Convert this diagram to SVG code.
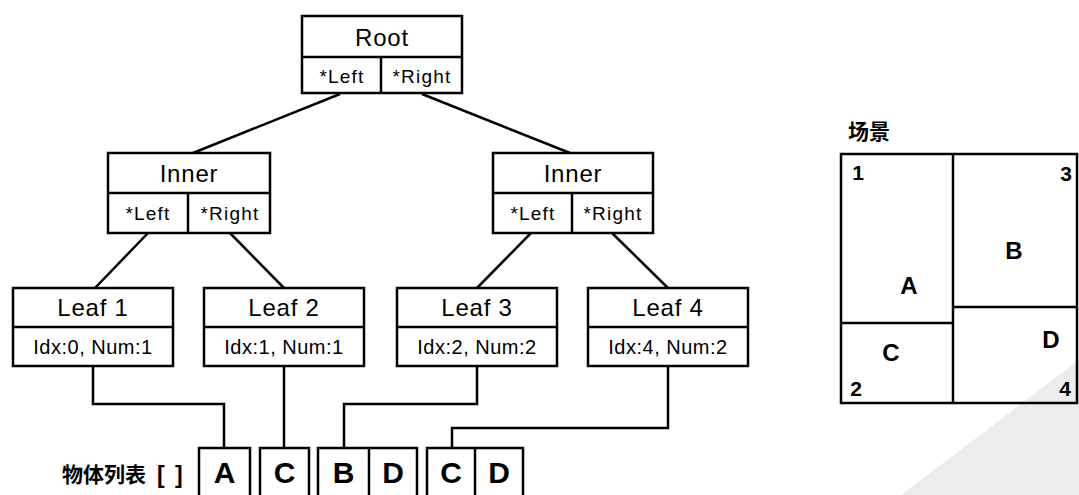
<svg xmlns="http://www.w3.org/2000/svg" width="1079" height="495" viewBox="0 0 1079 495">
<style>
.box{fill:#fff;stroke:#000;stroke-width:2.5}
.ln{fill:none;stroke:#000;stroke-width:2.5}
.t{font-family:"Liberation Sans",Arial,sans-serif;fill:#000;text-anchor:middle}
.big{font-size:24px;letter-spacing:0.8px}
.ptr{font-size:19px;letter-spacing:1.2px}
.idx{font-size:20px;letter-spacing:0.5px}
.obj{font-size:30px;font-weight:bold}
.sc{font-size:24px;font-weight:bold}
.num{font-size:21px;font-weight:bold}
.cjk{font-family:"Liberation Sans","Noto Sans CJK SC",sans-serif;font-weight:bold;font-size:21px;fill:#000}
.br{font-family:"Liberation Sans",Arial,sans-serif;font-weight:bold;font-size:23px;fill:#000}
</style>
<rect width="1079" height="495" fill="#fff"/>
<polygon points="901,495 1079,360 1079,495" fill="#ececec"/>

<g id="connectors">
<line class="ln" x1="340" y1="94" x2="193" y2="153"/>
<line class="ln" x1="422" y1="94" x2="570" y2="153"/>
<line class="ln" x1="148" y1="233" x2="95" y2="288"/>
<line class="ln" x1="230" y1="233" x2="284" y2="288"/>
<line class="ln" x1="531" y1="233" x2="477" y2="288"/>
<line class="ln" x1="612" y1="233" x2="668" y2="288"/>
<polyline class="ln" points="93,366 93,404 224,404 224,449"/>
<polyline class="ln" points="284,366 284,449"/>
<polyline class="ln" points="477,366 477,404 344,404 344,449"/>
<polyline class="ln" points="668,366 668,428 452,428 452,449"/>
</g>

<g id="root">
<rect class="box" x="302" y="16" width="160" height="77"/>
<line class="ln" x1="302" y1="57" x2="462" y2="57"/>
<line class="ln" x1="381" y1="57" x2="381" y2="93"/>
<text class="t big" x="382" y="46">Root</text>
<text class="t ptr" x="342" y="83">*Left</text>
<text class="t ptr" x="422" y="83">*Right</text>
</g>

<g id="inner-left">
<rect class="box" x="108" y="153" width="162" height="80"/>
<line class="ln" x1="108" y1="193" x2="270" y2="193"/>
<line class="ln" x1="188" y1="193" x2="188" y2="233"/>
<text class="t big" x="189" y="182">Inner</text>
<text class="t ptr" x="148" y="220">*Left</text>
<text class="t ptr" x="230" y="220">*Right</text>
</g>

<g id="inner-right">
<rect class="box" x="493" y="153" width="160" height="80"/>
<line class="ln" x1="493" y1="193" x2="653" y2="193"/>
<line class="ln" x1="572" y1="193" x2="572" y2="233"/>
<text class="t big" x="573" y="182">Inner</text>
<text class="t ptr" x="533" y="220">*Left</text>
<text class="t ptr" x="613" y="220">*Right</text>
</g>

<g id="leaf1">
<rect class="box" x="13" y="288" width="160" height="78"/>
<line class="ln" x1="13" y1="327" x2="173" y2="327"/>
<text class="t big" x="93" y="316">Leaf 1</text>
<text class="t idx" x="93" y="354">Idx:0, Num:1</text>
</g>

<g id="leaf2">
<rect class="box" x="204" y="288" width="160" height="78"/>
<line class="ln" x1="204" y1="327" x2="364" y2="327"/>
<text class="t big" x="284" y="316">Leaf 2</text>
<text class="t idx" x="284" y="354">Idx:1, Num:1</text>
</g>

<g id="leaf3">
<rect class="box" x="397" y="288" width="160" height="78"/>
<line class="ln" x1="397" y1="327" x2="557" y2="327"/>
<text class="t big" x="477" y="316">Leaf 3</text>
<text class="t idx" x="477" y="354">Idx:2, Num:2</text>
</g>

<g id="leaf4">
<rect class="box" x="588" y="288" width="160" height="78"/>
<line class="ln" x1="588" y1="327" x2="748" y2="327"/>
<text class="t big" x="668" y="316">Leaf 4</text>
<text class="t idx" x="668" y="354">Idx:4, Num:2</text>
</g>

<g id="object-list">
<text class="cjk" x="62" y="482">物体列表</text>
<text class="br" x="157" y="483">[<tspan x="175">]</tspan></text>
<rect class="box" x="199" y="448" width="51" height="60"/>
<rect class="box" x="260" y="448" width="49" height="60"/>
<rect class="box" x="318" y="448" width="99" height="60"/>
<line class="ln" x1="369" y1="448" x2="369" y2="500"/>
<rect class="box" x="427" y="448" width="96" height="60"/>
<line class="ln" x1="475" y1="448" x2="475" y2="500"/>
<text class="t obj" x="224.5" y="483">A</text>
<text class="t obj" x="284.5" y="483">C</text>
<text class="t obj" x="343.5" y="483">B</text>
<text class="t obj" x="393" y="483">D</text>
<text class="t obj" x="451" y="483">C</text>
<text class="t obj" x="499" y="483">D</text>
</g>

<g id="scene">
<text class="cjk" x="848" y="139">场景</text>
<rect x="841" y="154" width="236" height="249" fill="none" stroke="#000" stroke-width="2.5"/>
<line class="ln" x1="953" y1="154" x2="953" y2="403"/>
<line class="ln" x1="841" y1="323" x2="953" y2="323"/>
<line class="ln" x1="953" y1="307" x2="1077" y2="307"/>
<text class="t num" x="858" y="180">1</text>
<text class="t num" x="1066" y="181">3</text>
<text class="t num" x="856" y="396">2</text>
<text class="t num" x="1065" y="396">4</text>
<text class="t sc" x="909" y="294">A</text>
<text class="t sc" x="1014" y="259">B</text>
<text class="t sc" x="891" y="361">C</text>
<text class="t sc" x="1051" y="348">D</text>
</g>
</svg>
